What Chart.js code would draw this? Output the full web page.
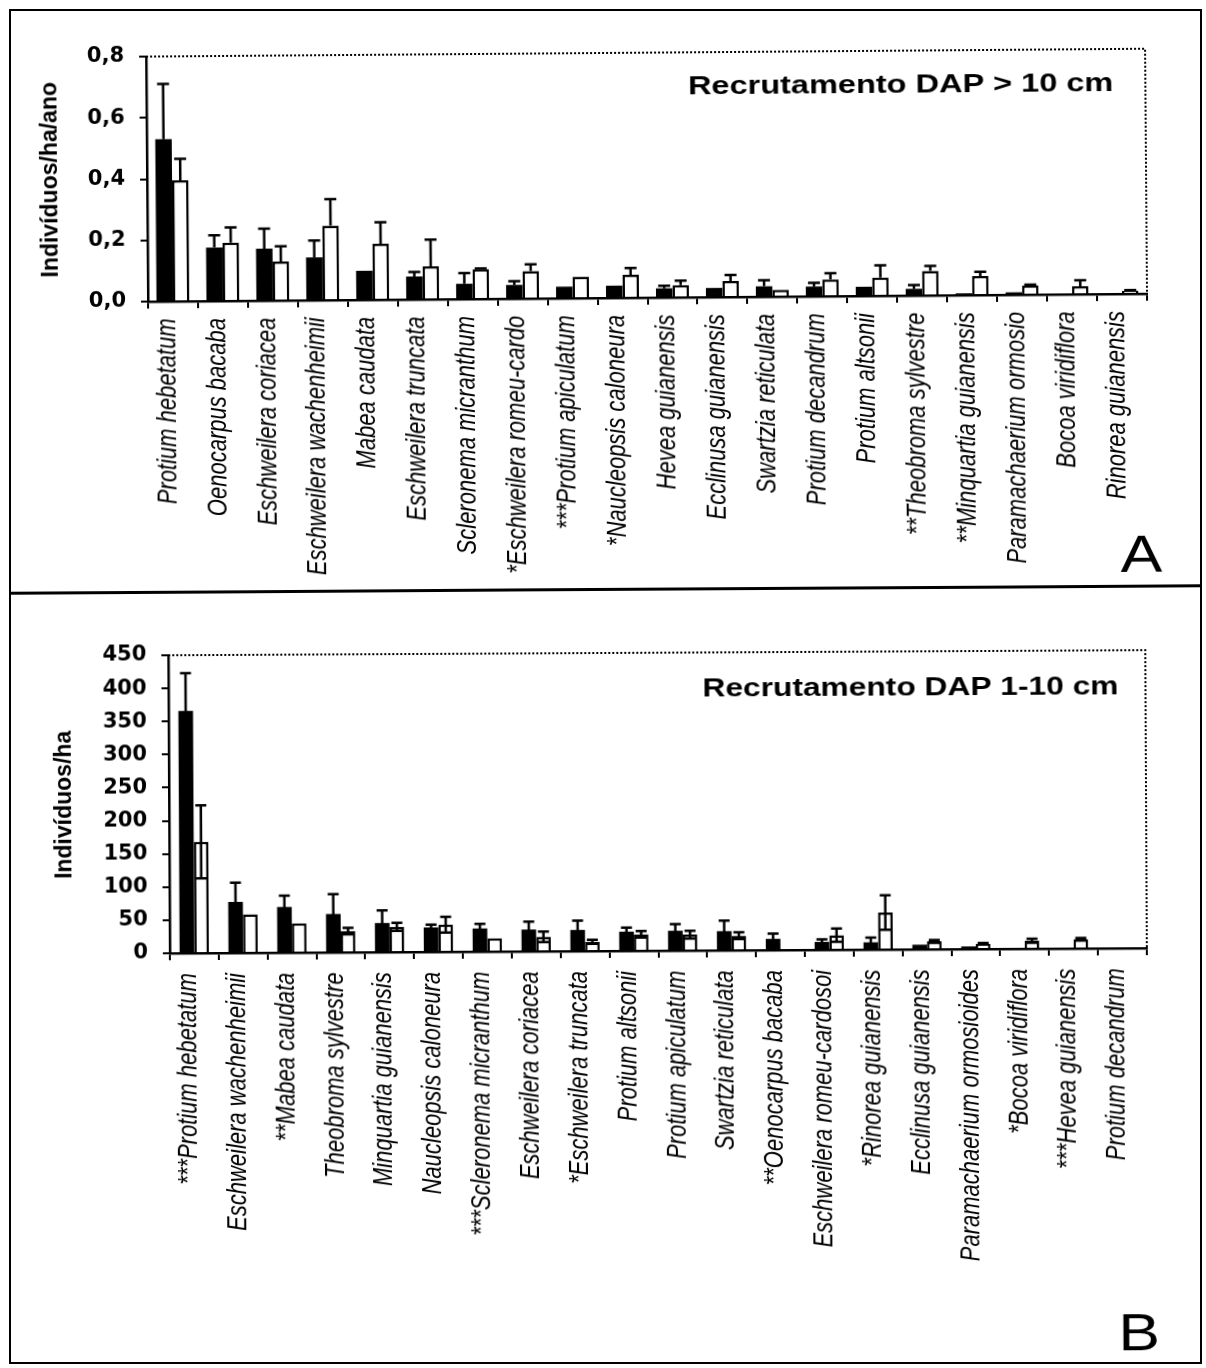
<!DOCTYPE html>
<html>
<head>
<meta charset="utf-8">
<script src="https://cdn.jsdelivr.net/npm/chart.js@4/dist/chart.umd.min.js"></script>
<style>
  body { margin: 0; background: #fff; }
  #page { position: relative; width: 1206px; height: 1368px; background: #fff; overflow: hidden; }
  .frame { position: absolute; left: 9px; top: 9px; width: 1189px; height: 1351px; border: 2px solid #000; }
  .divider { position: absolute; left: 9px; top: 588px; width: 1193px; height: 3px; background: #000; transform: rotate(-0.35deg); }
  #chartA { position: absolute; left: 0; top: 0; transform: rotate(-0.45deg); }
  #chartB { position: absolute; left: 0; top: 592px; transform: rotate(-0.3deg); }
</style>
</head>
<body>
<div id="page">
  <div class="frame"></div>
  <div class="divider"></div>
  <canvas id="chartA" width="1206" height="591"></canvas>
  <canvas id="chartB" width="1206" height="776"></canvas>
</div>
<script>
// Panel A - recrutamento DAP > 10 cm (individuos/ha/ano)
const speciesA = ['Protium hebetatum', 'Oenocarpus bacaba', 'Eschweilera coriacea', 'Eschweilera wachenheimii',
  'Mabea caudata', 'Eschweilera truncata', 'Scleronema micranthum', '*Eschweilera romeu-cardo',
  '***Protium apiculatum', '*Naucleopsis caloneura', 'Hevea guianensis', 'Ecclinusa guianensis',
  'Swartzia reticulata', 'Protium decandrum', 'Protium altsonii', '**Theobroma sylvestre',
  '**Minquartia guianensis', 'Paramachaerium ormosio', 'Bocoa viridiflora', 'Rinorea guianensis'];
const blackA = [0.53, 0.175, 0.17, 0.14, 0.095, 0.075, 0.05, 0.045, 0.038, 0.04, 0.03, 0.03, 0.034, 0.032, 0.03, 0.022, 0.006, 0.008, 0.002, 0.003];
const blackErrA = [0.18, 0.04, 0.065, 0.055, 0, 0.015, 0.035, 0.012, 0, 0, 0.008, 0, 0.02, 0.012, 0, 0.012, 0, 0, 0, 0];
const whiteA = [0.395, 0.19, 0.127, 0.243, 0.183, 0.108, 0.097, 0.09, 0.07, 0.075, 0.04, 0.052, 0.022, 0.055, 0.06, 0.08, 0.062, 0.03, 0.026, 0.01];
const whiteErrA = [0.07, 0.05, 0.05, 0.087, 0.07, 0.087, 0.003, 0.022, 0, 0.022, 0.015, 0.02, 0, 0.02, 0.04, 0.016, 0.014, 0.003, 0.02, 0.002];
const yTicksA = ['0,0', '0,2', '0,4', '0,6', '0,8'];

// Panel B - recrutamento DAP 1-10 cm (individuos/ha)
const speciesB = ['***Protium hebetatum', 'Eschweilera wachenheimii', '**Mabea caudata', 'Theobroma sylvestre',
  'Minquartia guianensis', 'Naucleopsis caloneura', '***Scleronema micranthum', 'Eschweilera coriacea',
  '*Eschweilera truncata', 'Protium altsonii', 'Protium apiculatum', 'Swartzia reticulata',
  '**Oenocarpus bacaba', 'Eschweilera romeu-cardosoi', '*Rinorea guianensis', 'Ecclinusa guianensis',
  'Paramachaerium ormosioides', '*Bocoa viridiflora', '***Hevea guianensis', 'Protium decandrum'];
const blackB = [366, 77, 69, 58, 44, 37, 35, 33, 32, 29, 30, 29, 17, 12, 11, 7, 4, 0, 0, 0];
const blackErrB = [57, 29, 17, 30, 19, 4, 7, 12, 14, 6, 10, 16, 8, 4, 7, 0, 0, 0, 0, 0];
const whiteB = [168, 58, 44, 32, 38, 41, 20, 22, 14, 25, 24, 22, 0, 22, 56, 12, 8, 12, 14, 0];
const whiteErrB = [55, 0, 0, 5, 6, 12, 0, 8, 3, 5, 6, 5, 0, 10, 26, 2, 1, 3, 2, 0];
const yTicksB = ['0', '50', '100', '150', '200', '250', '300', '350', '400', '450'];

Chart.defaults.color = '#000';
Chart.defaults.font.family = '"Liberation Sans", Arial, sans-serif';

// error bars, dotted frame, rotated species names, title and panel letter
const decor = {
  id: 'decor',
  afterDatasetsDraw(chart, args, opts) {
    const { ctx } = chart;
    const y = chart.scales.y;
    ctx.save();
    ctx.strokeStyle = '#000';
    ctx.lineWidth = 2.5;
    chart.data.datasets.forEach((ds, di) => {
      chart.getDatasetMeta(di).data.forEach((bar, i) => {
        const e = ds.errors[i];
        if (!e) return;
        const v = ds.data[i];
        const top = y.getPixelForValue(v + e);
        const low = opts.twoSided ? y.getPixelForValue(Math.max(v - e, 0)) : bar.y;
        const half = opts.cap / 2;
        ctx.beginPath();
        ctx.moveTo(bar.x, top);
        ctx.lineTo(bar.x, low);
        ctx.moveTo(bar.x - half, top);
        ctx.lineTo(bar.x + half, top);
        if (opts.twoSided && v - e > 0) {
          ctx.moveTo(bar.x - half, low);
          ctx.lineTo(bar.x + half, low);
        }
        ctx.stroke();
      });
    });
    ctx.restore();
  },
  afterDraw(chart, args, opts) {
    const { ctx, chartArea: a } = chart;
    const x = chart.scales.x;
    ctx.save();
    ctx.strokeStyle = '#000';
    ctx.lineWidth = 2;
    ctx.setLineDash([2, 2]);
    ctx.beginPath();
    ctx.moveTo(a.left, a.top);
    ctx.lineTo(a.right, a.top);
    ctx.lineTo(a.right, a.bottom);
    ctx.stroke();
    ctx.setLineDash([]);

    ctx.fillStyle = '#000';
    ctx.font = 'italic 22px "Liberation Sans", Arial, sans-serif';
    ctx.textAlign = 'right';
    ctx.textBaseline = 'middle';
    chart.data.labels.forEach((name, i) => {
      ctx.save();
      ctx.translate(x.getPixelForValue(i) - 6, a.bottom + opts.labelGap);
      ctx.rotate(-Math.PI / 2);
      ctx.scale(1, 1.25);
      ctx.fillText(name, 0, 0);
      ctx.restore();
    });

    ctx.textBaseline = 'alphabetic';
    ctx.save();
    ctx.font = 'bold ' + opts.titleSize + 'px "Liberation Sans", Arial, sans-serif';
    ctx.translate(opts.titleX, opts.titleY);
    ctx.scale(opts.titleStretch, 1);
    ctx.fillText(opts.title, 0, 0);
    ctx.restore();

    ctx.save();
    ctx.font = '52px "Liberation Sans", Arial, sans-serif';
    ctx.translate(opts.letterX, opts.letterY);
    ctx.scale(1.2, 1);
    ctx.fillText(opts.letter, 0, 0);
    ctx.restore();
    ctx.restore();
  }
};

function panel(canvasId, cfg) {
  return new Chart(document.getElementById(canvasId), {
    type: 'bar',
    data: {
      labels: cfg.labels,
      datasets: [
        { data: cfg.black, errors: cfg.blackErr, backgroundColor: '#000', borderWidth: 0 },
        { data: cfg.white, errors: cfg.whiteErr, backgroundColor: '#fff', borderColor: '#000', borderWidth: 2.5 },
      ],
    },
    options: {
      responsive: false,
      animation: false,
      devicePixelRatio: 1,
      layout: { padding: { top: cfg.top, left: cfg.padLeft, right: 59, bottom: 0 } },
      datasets: { bar: { categoryPercentage: cfg.catPct, barPercentage: 1 } },
      plugins: {
        legend: { display: false },
        tooltip: { enabled: false },
        decor: cfg.decor,
      },
      scales: {
        x: {
          grid: { offset: true, drawOnChartArea: false, color: '#000', lineWidth: 2, tickLength: 7 },
          border: { color: '#000', width: 2.5 },
          ticks: { display: false },
          afterFit: (s) => { s.height = cfg.xHeight; },
        },
        y: {
          min: 0,
          max: cfg.max,
          grid: { drawOnChartArea: false, color: '#000', lineWidth: 2, tickLength: 7 },
          border: { color: '#000', width: 2.5 },
          ticks: {
            stepSize: cfg.step,
            padding: 15,
            font: { family: '"DejaVu Sans"', size: 21, weight: 'bold' },
            callback: (v, i) => cfg.yTicks[i],
          },
          title: {
            display: true,
            text: cfg.yTitle,
            font: { size: 23, weight: 'bold' },
          },
          afterFit: (s) => { s.width = cfg.yWidth; },
        },
      },
    },
    plugins: [decor],
  });
}

panel('chartA', {
  labels: speciesA, black: blackA, blackErr: blackErrA, white: whiteA, whiteErr: whiteErrA,
  yTicks: yTicksA, max: 0.8, step: 0.2, yTitle: 'Indivíduos/ha/ano',
  top: 53, padLeft: 34, yWidth: 114, xHeight: 293, catPct: 0.66,
  decor: {
    twoSided: false, cap: 12, labelGap: 17,
    title: 'Recrutamento DAP > 10 cm', titleSize: 25, titleStretch: 1.3, titleX: 1115, titleY: 95,
    letter: 'A', letterX: 1160, letterY: 576,
  },
});

panel('chartB', {
  labels: speciesB, black: blackB, blackErr: blackErrB, white: whiteB, whiteErr: whiteErrB,
  yTicks: yTicksB, max: 450, step: 50, yTitle: 'Indivíduos/ha',
  top: 61, padLeft: 48, yWidth: 122, xHeight: 417, catPct: 0.6,
  decor: {
    twoSided: true, cap: 11, labelGap: 20,
    title: 'Recrutamento DAP 1-10 cm', titleSize: 26, titleStretch: 1.22, titleX: 1120, titleY: 105,
    letter: 'B', letterX: 1158, letterY: 761,
  },
});
</script>
</body>
</html>
